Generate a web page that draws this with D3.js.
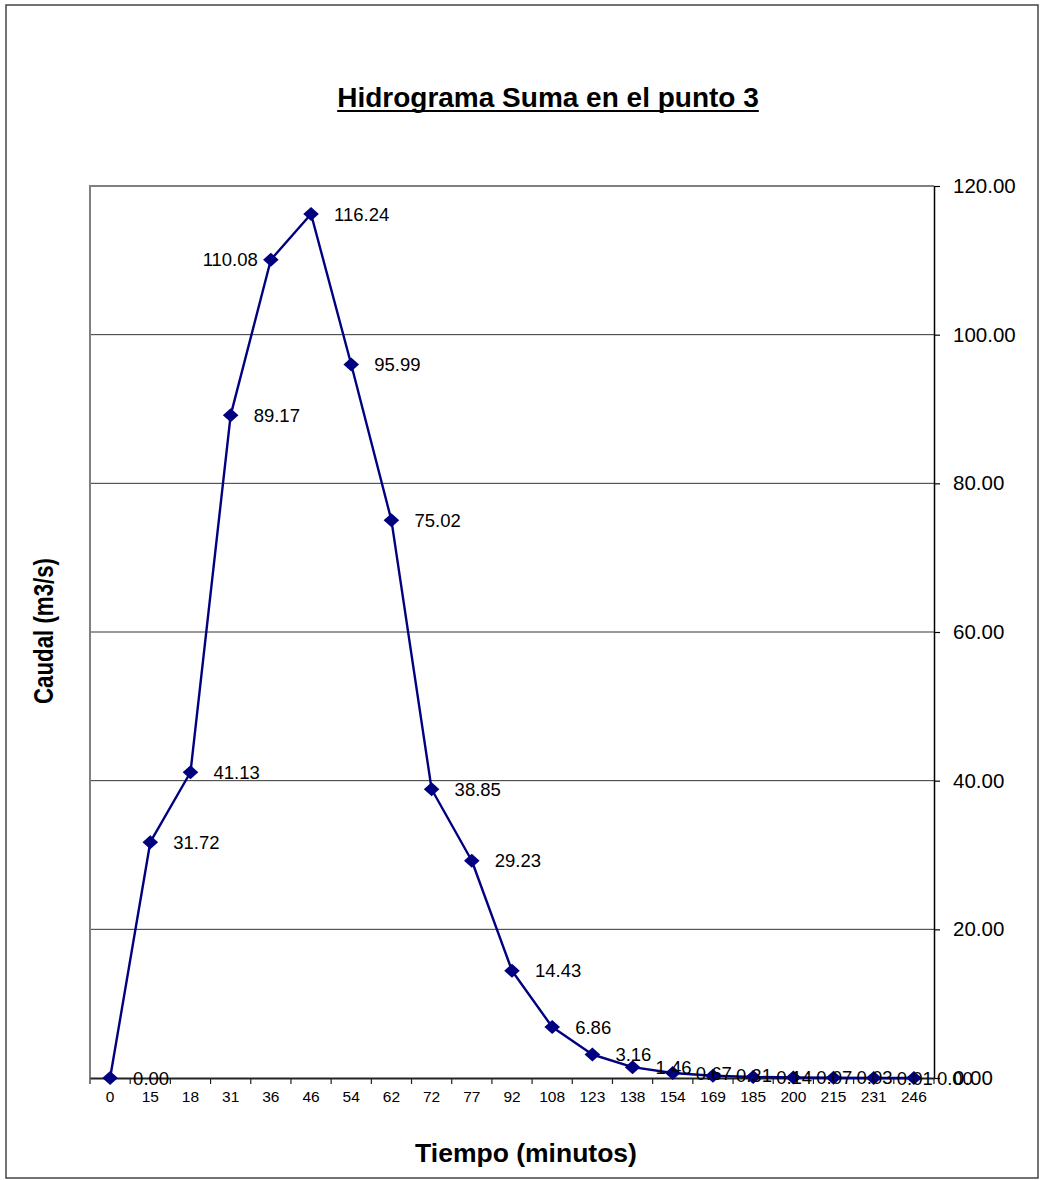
<!DOCTYPE html>
<html>
<head>
<meta charset="utf-8">
<script src="https://cdn.jsdelivr.net/npm/d3@7"></script>
<style>
  html, body { margin: 0; padding: 0; background: #fff; }
  svg text { font-family: "Liberation Sans", Arial, sans-serif; }
</style>
</head>
<body>
<svg id="chart" width="1040" height="1180"></svg>
<script>
// Tiempo (minutos) categories and summed flow (m3/s)
const tiempos = ["0","15","18","31","36","46","54","62","72","77","92","108","123","138","154","169","185","200","215","231","246"];
const caudal = [0.00, 31.72, 41.13, 89.17, 110.08, 116.24, 95.99, 75.02, 38.85, 29.23, 14.43, 6.86, 3.16, 1.46, 0.67, 0.31, 0.14, 0.07, 0.03, 0.01, 0.00];
const yTicks = [0, 20, 40, 60, 80, 100, 120];
const titulo = "Hidrograma Suma en el punto 3";
const tituloX = "Tiempo (minutos)";
const tituloY = "Caudal (m3/s)";

const svg = d3.select("#chart");
const plot = { left: 90, right: 934, top: 186, bottom: 1078 };
const navy = "#000080";
const fontFam = "Liberation Sans, Arial, sans-serif";

// outer frame
svg.append("rect")
  .attr("x", 6).attr("y", 5).attr("width", 1032).attr("height", 1173)
  .attr("fill", "#fff").attr("stroke", "#444").attr("stroke-width", 1.5);

const x = d3.scaleBand().domain(tiempos).range([plot.left, plot.right]).padding(0);
const y = d3.scaleLinear().domain([0, 120]).range([plot.bottom, plot.top]);
const cx = d => x(d) + x.bandwidth() / 2;

// gridlines
svg.append("g").selectAll("line")
  .data(yTicks.filter(v => v > 0 && v < 120))
  .join("line")
  .attr("x1", plot.left).attr("x2", plot.right)
  .attr("y1", d => y(d)).attr("y2", d => y(d))
  .attr("stroke", "#333").attr("stroke-width", 1);

// plot area border (left and top)
svg.append("path")
  .attr("d", `M${plot.left},${plot.bottom}V${plot.top}H${plot.right}`)
  .attr("fill", "none").attr("stroke", "#808080").attr("stroke-width", 2);

// right value axis
const yAxis = svg.append("g")
  .attr("transform", `translate(${plot.right},0)`)
  .call(d3.axisRight(y).tickValues(yTicks).tickFormat(d3.format(".2f")).tickSize(6).tickSizeOuter(0).tickPadding(13));
yAxis.select(".domain").attr("stroke", "#000").attr("stroke-width", 1.5);
yAxis.selectAll(".tick line").attr("stroke", "#000").attr("stroke-width", 1.2);
yAxis.selectAll("text").attr("font-size", 20.5).attr("fill", "#000")
  .attr("font-family", fontFam);

// bottom category axis: labels centered, ticks between categories
const xAxis = svg.append("g")
  .attr("transform", `translate(0,${plot.bottom})`)
  .call(d3.axisBottom(x).tickSize(0).tickSizeOuter(0).tickPadding(13));
xAxis.select(".domain").attr("stroke", "#222").attr("stroke-width", 2);
xAxis.selectAll("text").attr("font-size", 15.5).attr("fill", "#000")
  .attr("font-family", fontFam);
svg.append("g").selectAll("line")
  .data(tiempos.map(d => x(d)).concat([plot.right]))
  .join("line")
  .attr("x1", d => d).attr("x2", d => d)
  .attr("y1", plot.bottom).attr("y2", plot.bottom + 6)
  .attr("stroke", "#222").attr("stroke-width", 1.2);

// series line
const line = d3.line().x((d, i) => cx(tiempos[i])).y(d => y(d));
svg.append("path")
  .datum(caudal)
  .attr("d", line)
  .attr("fill", "none").attr("stroke", navy).attr("stroke-width", 2.4)
  .attr("stroke-linejoin", "round");

// diamond markers
const hw = 7.8, hh = 7;
svg.append("g").selectAll("path")
  .data(caudal)
  .join("path")
  .attr("transform", (d, i) => `translate(${cx(tiempos[i])},${y(d)})`)
  .attr("d", `M0,${-hh}L${hw},0L0,${hh}L${-hw},0Z`)
  .attr("fill", navy);

// data labels
svg.append("g").selectAll("text")
  .data(caudal)
  .join("text")
  .attr("x", (d, i) => i === 4 ? cx(tiempos[i]) - 13 : cx(tiempos[i]) + 23)
  .attr("y", d => y(d))
  .attr("dy", "0.36em")
  .attr("text-anchor", (d, i) => i === 4 ? "end" : "start")
  .attr("font-size", 18.5)
  .attr("fill", "#000")
  .text(d => d.toFixed(2));

// title (underlined)
const t = svg.append("text")
  .attr("x", 548).attr("y", 107)
  .attr("text-anchor", "middle")
  .attr("font-size", 28).attr("font-weight", "bold")
  .attr("fill", "#000")
  .text(titulo);
const tw = t.node().getComputedTextLength();
svg.append("line")
  .attr("x1", 548 - tw / 2).attr("x2", 548 + tw / 2)
  .attr("y1", 111).attr("y2", 111)
  .attr("stroke", "#000").attr("stroke-width", 2);

// axis titles
svg.append("text")
  .attr("x", 526).attr("y", 1162)
  .attr("text-anchor", "middle")
  .attr("font-size", 26.5).attr("font-weight", "bold")
  .attr("fill", "#000")
  .text(tituloX);

svg.append("text")
  .attr("transform", "translate(53,631) rotate(-90)")
  .attr("text-anchor", "middle")
  .attr("font-size", 28).attr("font-weight", "bold")
  .attr("textLength", 146).attr("lengthAdjust", "spacingAndGlyphs")
  .attr("fill", "#000")
  .text(tituloY);
</script>
</body>
</html>
